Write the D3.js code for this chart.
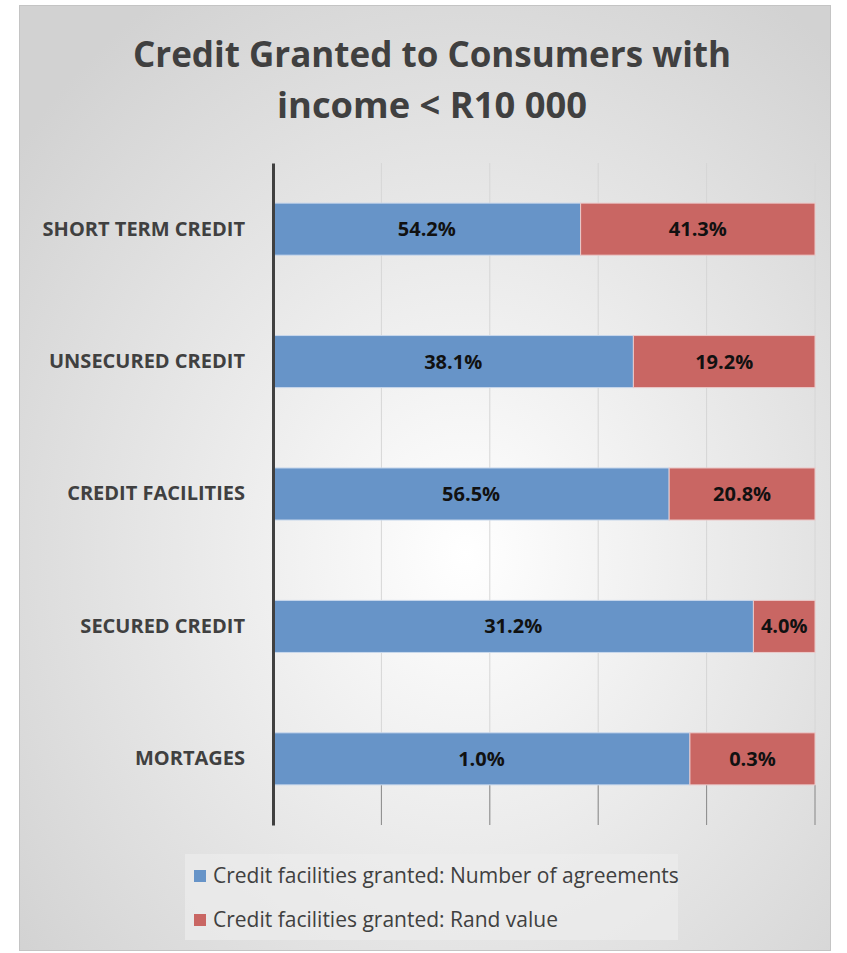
<!DOCTYPE html>
<html>
<head>
<meta charset="utf-8">
<script src="https://cdn.jsdelivr.net/npm/d3@7"></script>
<style>
  body { margin: 0; background: #fff; }
  text { font-family: "Open Sans", "Noto Sans", sans-serif; }
</style>
</head>
<body>
<svg width="847" height="953"></svg>
<script>
// data
const categories = ["SHORT TERM CREDIT", "UNSECURED CREDIT", "CREDIT FACILITIES", "SECURED CREDIT", "MORTAGES"];
const agreements = [54.2, 38.1, 56.5, 31.2, 1.0];
const randValue = [41.3, 19.2, 20.8, 4.0, 0.3];
const seriesNames = ["Credit facilities granted: Number of agreements", "Credit facilities granted: Rand value"];
const xTicks = [0, 0.2, 0.4, 0.6, 0.8, 1];

const config = {
    left: 273,
    right: 815,
    top: 163,
    bottom: 825,
    colors: ["#6794c8", "#c96663"]
};

const rows = categories.map((c, i) => {
    const total = agreements[i] + randValue[i];
    return { name: c, a: agreements[i], r: randValue[i], fa: agreements[i] / total, fr: randValue[i] / total };
});

const svg = d3.select("svg");

// background
const defs = svg.append("defs");
const grad = defs.append("radialGradient").attr("id", "bg")
    .attr("cx", "55%").attr("cy", "58%").attr("r", "70%");
grad.append("stop").attr("offset", "0%").attr("stop-color", "#ffffff");
grad.append("stop").attr("offset", "100%").attr("stop-color", "#d2d2d2");

svg.append("rect")
    .attr("x", 19.5).attr("y", 5.5).attr("width", 811).attr("height", 945)
    .attr("fill", "url(#bg)").attr("stroke", "#c4c4c4");

// title
const title = svg.append("text")
    .attr("text-anchor", "middle")
    .attr("font-weight", "bold")
    .attr("font-size", 35)
    .attr("fill", "#404040");
title.append("tspan").attr("x", 432).attr("y", 67).text("Credit Granted to Consumers with")
    .attr("textLength", 598).attr("lengthAdjust", "spacingAndGlyphs");
title.append("tspan").attr("x", 432).attr("y", 118).text("income < R10 000")
    .attr("textLength", 310).attr("lengthAdjust", "spacingAndGlyphs");

const x = d3.scaleLinear().domain([0, 1]).range([config.left, config.right]);
const y = d3.scaleBand().domain(categories).range([config.top, config.bottom]).paddingInner(0.607).paddingOuter(0.303);

// gridlines
svg.append("g")
    .selectAll("line")
    .data(xTicks.slice(1))
    .join("line")
    .attr("x1", d => x(d)).attr("x2", d => x(d))
    .attr("y1", config.top).attr("y2", config.bottom)
    .attr("stroke", "#d6d6d6").attr("stroke-width", 1);

// tick marks below the bars
svg.append("g")
    .selectAll("line")
    .data(xTicks.slice(1))
    .join("line")
    .attr("x1", d => x(d)).attr("x2", d => x(d))
    .attr("y1", y(categories[4]) + y.bandwidth()).attr("y2", config.bottom)
    .attr("stroke", "#8a8a8a").attr("stroke-width", 1);

// bars
const g = svg.append("g").selectAll("g")
    .data(rows)
    .join("g");

g.append("rect")
    .attr("x", x(0))
    .attr("y", d => y(d.name))
    .attr("width", d => x(d.fa) - x(0))
    .attr("height", y.bandwidth())
    .attr("fill", config.colors[0])
    .attr("stroke", "#c9d8ec").attr("stroke-width", 1);

g.append("rect")
    .attr("x", d => x(d.fa))
    .attr("y", d => y(d.name))
    .attr("width", d => x(1) - x(d.fa))
    .attr("height", y.bandwidth())
    .attr("fill", config.colors[1])
    .attr("stroke", "#ebcaca").attr("stroke-width", 1);

g.append("text")
    .attr("x", d => x(d.fa / 2))
    .attr("y", d => y(d.name) + y.bandwidth() / 2)
    .attr("dy", "0.35em")
    .attr("text-anchor", "middle")
    .attr("font-weight", "bold").attr("font-size", 20).attr("fill", "#111")
    .text(d => d.a.toFixed(1) + "%");

g.append("text")
    .attr("x", d => x(d.fa + d.fr / 2))
    .attr("y", d => y(d.name) + y.bandwidth() / 2)
    .attr("dy", "0.35em")
    .attr("text-anchor", "middle")
    .attr("font-weight", "bold").attr("font-size", 20).attr("fill", "#111")
    .text(d => d.r.toFixed(1) + "%");

// y axis
const yAxis = d3.axisLeft(y).tickSize(0).tickPadding(28);
svg.append("g")
    .attr("transform", `translate(${config.left}, 0)`)
    .call(yAxis)
    .call(a => a.select(".domain").attr("stroke", "#404040").attr("stroke-width", 3))
    .call(a => a.selectAll("text")
        .attr("font-family", "'Open Sans', sans-serif")
        .attr("font-size", 20).attr("font-weight", "bold").attr("fill", "#404040"));

// legend
const legend = svg.append("g");
legend.append("rect")
    .attr("x", 185).attr("y", 854).attr("width", 493).attr("height", 86)
    .attr("fill", "#ececec").attr("opacity", 0.7);

const li = legend.selectAll("g")
    .data(seriesNames)
    .join("g")
    .attr("transform", (d, i) => `translate(194, ${870 + i * 44})`);
li.append("rect")
    .attr("width", 12).attr("height", 12)
    .attr("fill", (d, i) => config.colors[i]);
li.append("text")
    .attr("x", 19).attr("y", 6).attr("dy", "0.35em")
    .attr("font-size", 21).attr("fill", "#404040")
    .text(d => d);
</script>
</body>
</html>
